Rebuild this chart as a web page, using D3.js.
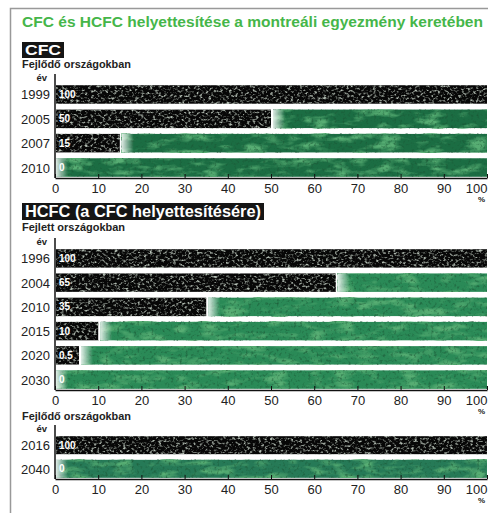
<!DOCTYPE html>
<html>
<head>
<meta charset="utf-8">
<script src="https://cdn.jsdelivr.net/npm/d3@7"></script>
<style>
  body { margin: 0; background: #fff; }
  svg { display: block; font-family: "Liberation Sans", Arial, sans-serif; }
</style>
</head>
<body>
<svg id="chart" width="488" height="513"></svg>
<script>
// data
const xTicks = [0, 10, 20, 30, 40, 50, 60, 70, 80, 90, 100];

const cfcYears = ["1999", "2005", "2007", "2010"];
const cfcValues = [100, 50, 15, 0];

const hcfcDevelopedYears = ["1996", "2004", "2010", "2015", "2020", "2030"];
const hcfcDevelopedValues = [100, 65, 35, 10, 0.5, 0];

const hcfcDevelopingYears = ["2016", "2040"];
const hcfcDevelopingValues = [100, 0];

const title = "CFC és HCFC helyettesítése a montreáli egyezmény keretében";

const svg = d3.select("#chart");
const x = d3.scaleLinear().domain([0, 100]).range([55, 487]);

// textures ---------------------------------
const defs = svg.append("defs");

const speck = defs.append("filter").attr("id", "speck")
  .attr("x", 0).attr("y", 0).attr("width", 1).attr("height", 1)
  .attr("color-interpolation-filters", "sRGB");
speck.append("feTurbulence").attr("type", "fractalNoise")
  .attr("baseFrequency", "0.34 0.42").attr("numOctaves", 2).attr("seed", 7).attr("result", "n");
speck.append("feColorMatrix").attr("in", "n").attr("type", "matrix")
  .attr("values", "0 0 0 0 0.7  0 0 0 0 0.74  0 0 0 0 0.7  3.4 0 0 0 -1.7").attr("result", "dots");
const sm = speck.append("feMerge");
sm.append("feMergeNode").attr("in", "SourceGraphic");
sm.append("feMergeNode").attr("in", "dots");

const mottle = defs.append("filter").attr("id", "mottle")
  .attr("x", 0).attr("y", 0).attr("width", 1).attr("height", 1)
  .attr("color-interpolation-filters", "sRGB");
mottle.append("feTurbulence").attr("type", "fractalNoise")
  .attr("baseFrequency", "0.045 0.12").attr("numOctaves", 3).attr("seed", 4).attr("result", "n1");
mottle.append("feColorMatrix").attr("in", "n1").attr("type", "matrix")
  .attr("values", "0 0 0 0 0.34  0 0 0 0 0.68  0 0 0 0 0.45  3.4 0 0 0 -1.6").attr("result", "patch");
mottle.append("feTurbulence").attr("type", "fractalNoise")
  .attr("baseFrequency", "0.35").attr("numOctaves", 2).attr("seed", 9).attr("result", "n2");
mottle.append("feColorMatrix").attr("in", "n2").attr("type", "matrix")
  .attr("values", "0 0 0 0 0.1  0 0 0 0 0.33  0 0 0 0 0.2  2 0 0 0 -1.05").attr("result", "grain");
const mm = mottle.append("feMerge");
mm.append("feMergeNode").attr("in", "SourceGraphic");
mm.append("feMergeNode").attr("in", "patch");
mm.append("feMergeNode").attr("in", "grain");

const fade = defs.append("linearGradient").attr("id", "fade");
fade.append("stop").attr("offset", 0).attr("stop-color", "#fff").attr("stop-opacity", 0.85);
fade.append("stop").attr("offset", 1).attr("stop-color", "#fff").attr("stop-opacity", 0);

// frame and title ---------------------------
svg.append("path").attr("d", "M10.5,513V8.5H488")
  .attr("fill", "none").attr("stroke", "#999").attr("stroke-width", 1.5);

svg.append("text").attr("x", 22).attr("y", 27)
  .attr("font-size", 15).attr("font-weight", "bold").attr("fill", "#45b649")
  .attr("textLength", 461).attr("lengthAdjust", "spacingAndGlyphs")
  .text(title);

function blackLabel(text, top, width, size) {
  const g = svg.append("g");
  g.append("rect").attr("x", 22).attr("y", top)
    .attr("width", width).attr("height", size + 1).attr("fill", "#151515");
  g.append("text").attr("x", 25).attr("y", top + size * 0.88)
    .attr("font-size", size).attr("font-weight", "bold").attr("fill", "#fff")
    .attr("textLength", width - 6).attr("lengthAdjust", "spacingAndGlyphs")
    .text(text);
}

function subtitle(text, y, width) {
  svg.append("text").attr("x", 22).attr("y", y)
    .attr("font-size", 10.5).attr("font-weight", "bold").attr("fill", "#222")
    .attr("textLength", width).attr("lengthAdjust", "spacingAndGlyphs")
    .text(text);
}

// one block of bars with its own axis
function barSection(years, values, top, bottom, green) {
  const y = d3.scaleBand().domain(years).range([top, bottom])
    .paddingInner(0.24).paddingOuter(0.05);
  const g = svg.append("g");
  const rows = years.map((yr, i) => ({ year: yr, value: values[i] }));

  rows.forEach((d) => {
    const y0 = y(d.year), h = y.bandwidth();
    const label = String(d.value);
    // black part keeps room for its label
    let xb = x(d.value);
    if (d.value > 0) xb = Math.max(xb, x(0) + label.length * 6 + 6);
    const gStart = d.value > 0 ? xb + 2 : x(0) + 1;

    if (gStart < x(100)) {
      g.append("rect").attr("x", gStart).attr("y", y0)
        .attr("width", x(100) - gStart).attr("height", h)
        .attr("fill", green).attr("filter", "url(#mottle)");
      g.append("rect").attr("x", gStart).attr("y", y0)
        .attr("width", 12).attr("height", h).attr("fill", "url(#fade)");
    }
    if (d.value > 0) {
      g.append("rect").attr("x", x(0) + 1).attr("y", y0)
        .attr("width", xb - x(0) - 1).attr("height", h)
        .attr("fill", "#070707").attr("filter", "url(#speck)");
    }
    g.append("text").attr("x", x(0) + 4).attr("y", y0 + h / 2 + 3.5)
      .attr("font-size", 10).attr("font-weight", "bold").attr("fill", "#fff")
      .text(label);
    g.append("text").attr("x", 50).attr("y", y0 + h / 2 + 5)
      .attr("text-anchor", "end").attr("font-size", 13).attr("fill", "#222")
      .text(d.year);
  });

  // "év" header and left axis line
  g.append("text").attr("x", 47).attr("y", top - 3)
    .attr("text-anchor", "end").attr("font-size", 9.5).attr("font-weight", "bold")
    .attr("fill", "#222").text("év");
  g.append("line").attr("x1", x(0)).attr("x2", x(0))
    .attr("y1", top - 10).attr("y2", bottom)
    .attr("stroke", "#111").attr("stroke-width", 1.5);

  const axis = g.append("g").attr("transform", `translate(0,${bottom})`)
    .call(d3.axisBottom(x).tickValues(xTicks).tickSizeInner(-4).tickSizeOuter(0).tickPadding(6));
  axis.select(".domain").attr("stroke", "#111").attr("stroke-width", 1.5);
  axis.selectAll(".tick line").attr("stroke", "#111");
  axis.selectAll(".tick text").attr("font-size", 13).attr("fill", "#222")
    .attr("font-family", "Liberation Sans, Arial, sans-serif");
  axis.selectAll(".tick text").filter((d) => d === 100)
    .attr("text-anchor", "end").attr("dx", 0);
  g.append("text").attr("x", 485).attr("y", bottom + 24)
    .attr("text-anchor", "end").attr("font-size", 8).attr("font-weight", "bold")
    .attr("fill", "#222").text("%");
}

blackLabel("CFC", 42, 42, 15);
subtitle("Fejlődő országokban", 68, 109);
barSection(cfcYears, cfcValues, 84, 178, "#1b6d43");

blackLabel("HCFC (a CFC helyettesítésére)", 203, 242, 16);
subtitle("Fejlett országokban", 231, 103);
barSection(hcfcDevelopedYears, hcfcDevelopedValues, 248, 390, "#2a8a57");

subtitle("Fejlődő országokban", 420, 109);
barSection(hcfcDevelopingYears, hcfcDevelopingValues, 435, 479, "#267a57");
</script>
</body>
</html>
